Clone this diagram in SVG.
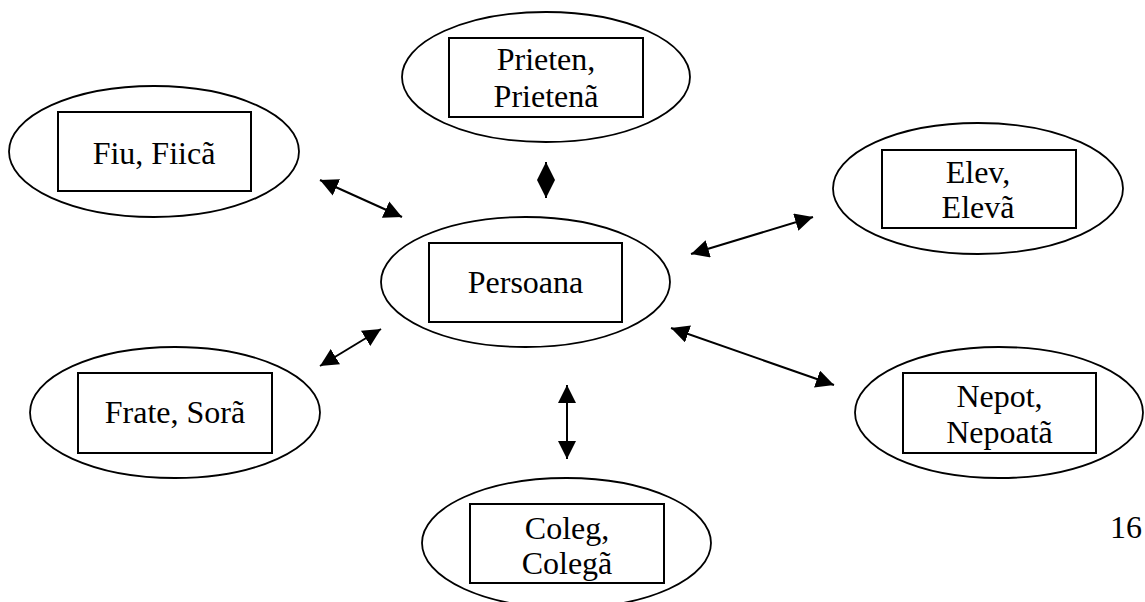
<svg xmlns="http://www.w3.org/2000/svg" width="1145" height="602" viewBox="0 0 1145 602">
  <style>
    .oval { fill: none; stroke: #000; stroke-width: 1.8; }
    .box { fill: #fff; stroke: #000; stroke-width: 2; }
    .lbl { font-family: "Liberation Serif", "Times New Roman", serif; font-size: 32px; fill: #000; text-anchor: middle; }
    .link { fill: none; stroke: #000; stroke-width: 2; marker-start: url(#head); marker-end: url(#head); }
  </style>
  <defs>
    <!-- filled triangular arrowhead, tip at the path end -->
    <marker id="head" markerUnits="userSpaceOnUse" markerWidth="18" markerHeight="18" viewBox="0 0 18 18" refX="18" refY="9" orient="auto-start-reverse">
      <path d="M0,0 L18,9 L0,18 Z" fill="#000"/>
    </marker>
  </defs>
  <rect width="1145" height="602" fill="#fff"/>

  <g id="connectors">
    <line class="link" x1="546" y1="162" x2="546" y2="198"/>
    <line class="link" x1="320" y1="180" x2="402" y2="217"/>
    <line class="link" x1="691" y1="254" x2="813" y2="217"/>
    <line class="link" x1="320" y1="366" x2="381" y2="329"/>
    <line class="link" x1="567" y1="385" x2="567" y2="459"/>
    <line class="link" x1="671" y1="328" x2="834" y2="385"/>
  </g>

  <g id="prieten">
    <ellipse class="oval" cx="546" cy="77" rx="144" ry="65"/>
    <rect class="box" x="449" y="38" width="194" height="79"/>
    <text class="lbl" x="546" y="70">Prieten,</text>
    <text class="lbl" x="546" y="107">Prietenã</text>
  </g>

  <g id="fiu">
    <ellipse class="oval" cx="154" cy="151.5" rx="145" ry="65.5"/>
    <rect class="box" x="58" y="112" width="193" height="79"/>
    <text class="lbl" x="154" y="164">Fiu, Fiicã</text>
  </g>

  <g id="elev">
    <ellipse class="oval" cx="978" cy="188.5" rx="145" ry="65.5"/>
    <rect class="box" x="882" y="150" width="194" height="78"/>
    <text class="lbl" x="978" y="183">Elev,</text>
    <text class="lbl" x="978" y="218">Elevã</text>
  </g>

  <g id="persoana">
    <ellipse class="oval" cx="525.5" cy="282" rx="144.5" ry="65"/>
    <rect class="box" x="429" y="243" width="193" height="79"/>
    <text class="lbl" x="525.5" y="293">Persoana</text>
  </g>

  <g id="frate">
    <ellipse class="oval" cx="175" cy="412.5" rx="145" ry="65.5"/>
    <rect class="box" x="78" y="373" width="194" height="80"/>
    <text class="lbl" x="175" y="423">Frate, Sorã</text>
  </g>

  <g id="nepot">
    <ellipse class="oval" cx="999" cy="412.5" rx="144" ry="65.5"/>
    <rect class="box" x="903" y="373" width="193" height="80"/>
    <text class="lbl" x="999.5" y="407">Nepot,</text>
    <text class="lbl" x="999.5" y="443">Nepoatã</text>
  </g>

  <g id="coleg">
    <ellipse class="oval" cx="566.5" cy="543" rx="144.5" ry="65"/>
    <rect class="box" x="470" y="504" width="194" height="79"/>
    <text class="lbl" x="567" y="539">Coleg,</text>
    <text class="lbl" x="567" y="574">Colegã</text>
  </g>

  <text class="lbl" x="1126" y="538">16</text>
</svg>
